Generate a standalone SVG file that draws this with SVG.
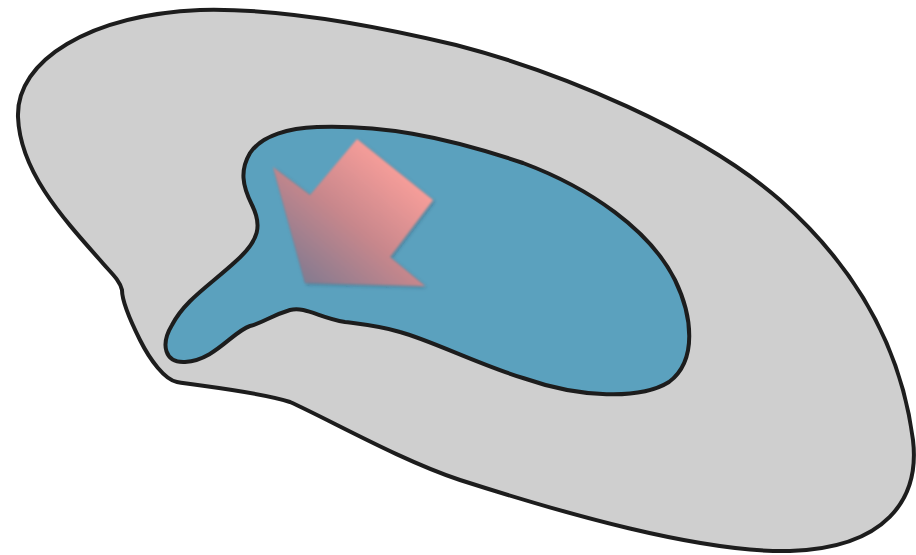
<svg xmlns="http://www.w3.org/2000/svg" width="916" height="555" viewBox="0 0 916 555">
  <defs>
    <style>
      .outline { stroke: #1d1d1d; stroke-width: 4; stroke-linejoin: round; }
      .outer { fill: #cfcfcf; }
      .inner { fill: #5ba1be; }
    </style>
    <linearGradient id="arrowGrad" x1="0.85" y1="0.2" x2="0.15" y2="0.95">
      <stop offset="0" stop-color="#fca09b"/>
      <stop offset="0.5" stop-color="#c8878c"/>
      <stop offset="1" stop-color="#827a90"/>
    </linearGradient>
    <filter id="soft" x="-20%" y="-20%" width="140%" height="140%">
      <feGaussianBlur in="SourceGraphic" stdDeviation="0.8" result="b"/>
      <feDropShadow in="b" dx="1.5" dy="1.5" stdDeviation="1.8" flood-color="#203040" flood-opacity="0.35"/>
    </filter>
  </defs>
  <g id="outer-region">
    <path class="outer outline" d="M 200,10 C 270,8 360,22 456,45 C 560,72 700,130 780,200 C 850,262 900,340 913,440 C 920,500 885,548 790,551 C 700,553 560,512 460,480 C 400,460 330,420 290,402 C 260,392 200,386 177,382 C 165,380 150,360 140,340 C 130,320 122,300 122,290 C 120,280 110,272 100,260 C 60,215 20,170 18,117 C 16,60 90,15 200,10 Z"/>
  </g>
  <g id="inner-region">
    <path class="inner outline" d="M 317,127 C 380,125 440,135 523,163 C 590,188 650,230 675,280 C 692,315 698,360 669,382 C 640,400 580,398 523,378 C 480,365 430,340 400,332 C 380,326 360,324 345,322 C 320,318 305,306 290,310 C 270,316 265,322 250,326 C 232,332 215,360 185,362 C 165,363 160,345 172,325 C 185,300 210,285 235,262 C 260,240 262,225 252,205 C 242,185 240,170 250,153 C 262,135 290,128 317,127 Z"/>
  </g>
  <g id="arrow">
    <polygon points="273,167 310,195 357,139 433,200 390,257 425,286 305,283" fill="url(#arrowGrad)" filter="url(#soft)"/>
  </g>
</svg>
